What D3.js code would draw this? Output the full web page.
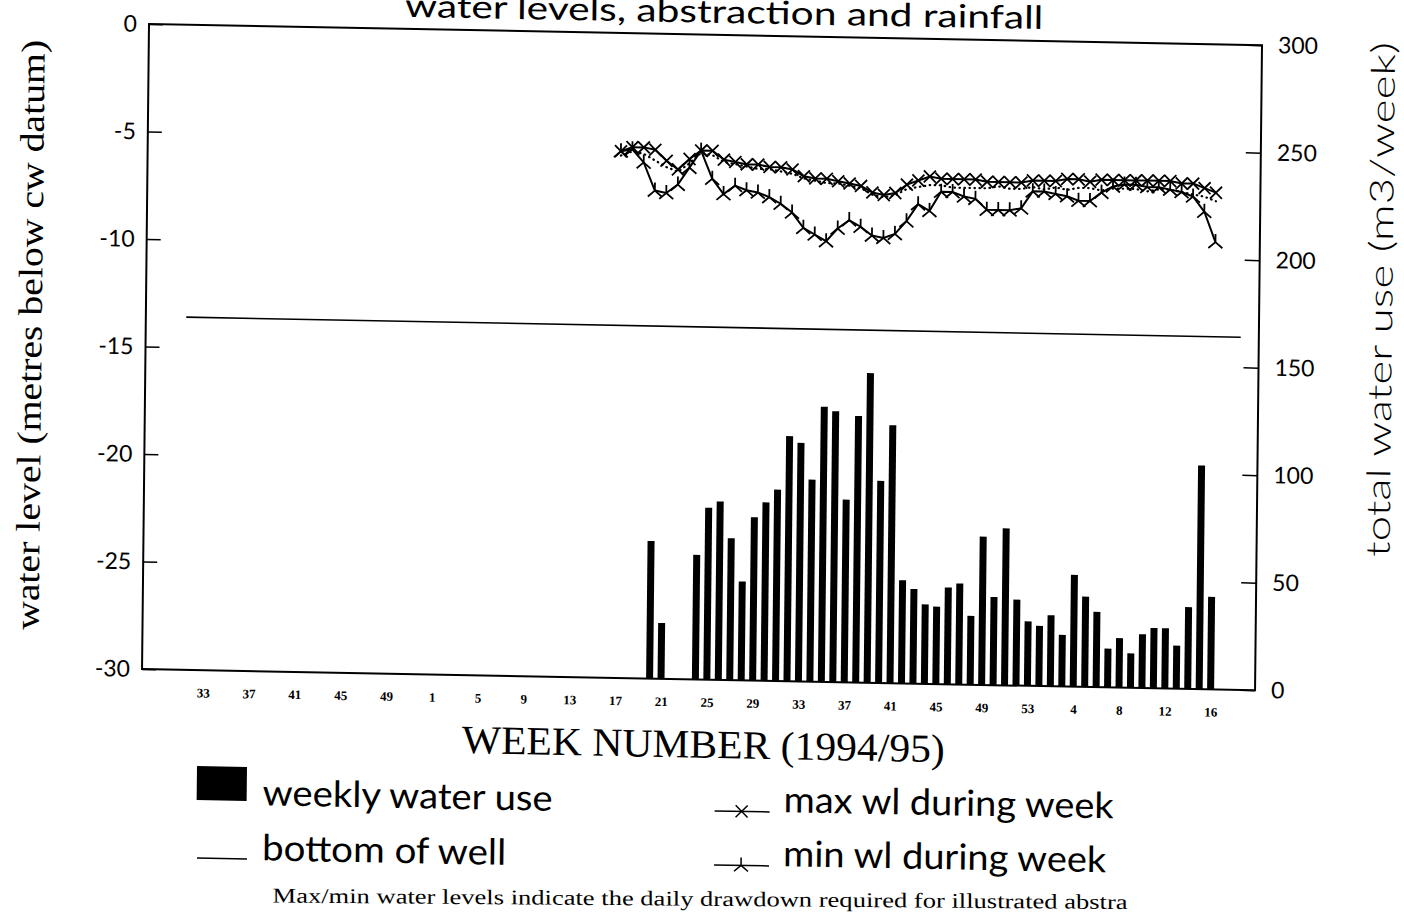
<!DOCTYPE html>
<html>
<head>
<meta charset="utf-8">
<script src="https://cdn.jsdelivr.net/npm/d3@7"></script>
<style>
  body { margin: 0; background: #fff; }
  svg { display: block; overflow: hidden; }
</style>
</head>
<body>
<svg id="chart" width="1404" height="914"></svg>
<script>
// week labels along the bottom (index 0 = week 33 of 1994, one step per week)
const tickIdx = [0, 4, 8, 12, 16, 20, 24, 28, 32, 36, 40, 44, 48, 52, 56, 60, 64, 68, 72, 76, 80, 84, 88];
const tickLabels = ['33', '37', '41', '45', '49', '1', '5', '9', '13', '17', '21', '25', '29', '33', '37', '41', '45', '49', '53', '4', '8', '12', '16'];

// weekly water use (m3/week), right axis
const useWeeks = ['95-20', '95-21', '95-24', '95-25', '95-26', '95-27', '95-28', '95-29', '95-30', '95-31',
  '95-32', '95-33', '95-34', '95-35', '95-36', '95-37', '95-38', '95-39', '95-40', '95-41',
  '95-42', '95-43', '95-44', '95-45', '95-46', '95-47', '95-48', '95-49', '95-50', '95-51',
  '95-52', '95-53', '96-1', '96-2', '96-3', '96-4', '96-5', '96-6', '96-7', '96-8',
  '96-9', '96-10', '96-11', '96-12', '96-13', '96-14', '96-15', '96-16'];
const useM3 = [64, 26, 58, 80, 83, 66, 46, 76, 83, 89,
  114, 111, 94, 128, 126, 85, 124, 144, 94, 120,
  48, 44, 37, 36, 45, 47, 32, 69, 41, 73,
  40, 30, 28, 33, 24, 52, 42, 35, 18, 23,
  16, 25, 28, 28, 20, 38, 104, 43];

// water levels (m below cw datum), left axis, weekly from week 17 of 1995
const levelStart = '95-17';
const maxWl = [-5.5, -5.3, -5.3, -5.4, -5.9, -6.3, -5.8, -5.4, -5.4, -5.8,
  -5.9, -6.0, -6.0, -6.1, -6.1, -6.2, -6.5, -6.6, -6.6, -6.7,
  -6.8, -6.9, -7.2, -7.3, -7.2, -6.8, -6.6, -6.4, -6.5, -6.5,
  -6.5, -6.5, -6.6, -6.6, -6.6, -6.6, -6.5, -6.5, -6.5, -6.4,
  -6.4, -6.5, -6.4, -6.4, -6.4, -6.4, -6.4, -6.4, -6.4, -6.5,
  -6.5, -6.7, -6.9];
const minWl = [-5.5, -5.4, -6.0, -7.3, -7.4, -7.0, -6.2, -5.4, -6.7, -7.4,
  -7.0, -7.2, -7.3, -7.5, -7.8, -8.2, -8.9, -9.2, -9.5, -8.9,
  -8.5, -8.8, -9.2, -9.3, -9.1, -8.5, -7.7, -8.0, -7.1, -7.1,
  -7.3, -7.4, -7.9, -7.9, -7.9, -7.8, -7.0, -7.0, -7.1, -7.2,
  -7.4, -7.4, -7.0, -6.7, -6.6, -6.6, -6.7, -6.7, -6.8, -6.9,
  -7.1, -7.8, -9.2];
const dotWl = [-5.7, -5.5, -5.6, -5.9, -6.2, -6.4, -6.0, -5.5, -5.6, -5.9,
  -6.0, -6.1, -6.2, -6.2, -6.3, -6.4, -6.6, -6.7, -6.8, -6.8,
  -6.9, -7.0, -7.3, -7.4, -7.3, -7.0, -6.9, -6.8, -6.8, -6.9,
  -6.9, -6.9, -6.9, -6.8, -6.9, -6.9, -6.8, -6.9, -6.8, -6.9,
  -6.8, -6.8, -6.9, -6.8, -6.8, -6.8, -6.9, -6.8, -6.8, -6.9,
  -7.0, -7.1, -7.3];
const wellBottom = -13.6;
const wellFrom = -1.8, wellTo = 90.3;
const levelTicks = [0, -5, -10, -15, -20, -25, -30];
const useTicks = [0, 50, 100, 150, 200, 250, 300];

function weekIndex(s) {
  const [yy, ww] = s.split('-').map(Number);
  if (yy === 94) return ww - 33;
  if (yy === 95) return ww + 19;
  return ww + 72;
}

const W = 1113, H = 645;
const serif = '"Liberation Serif", "Times New Roman", serif';
const sans = 'Lato, "Open Sans", sans-serif';

const svg = d3.select('#chart');
svg.append('rect').attr('width', 1404).attr('height', 914).attr('fill', '#fff');

// whole page is a slightly skewed scan, so draw everything through one matrix
const g = svg.append('g').attr('transform', 'matrix(1,0.019,-0.0108,1,149,24)');

const x = d3.scaleLinear().domain([-5.33, 91.88]).range([0, W]);
const yL = d3.scaleLinear().domain([0, -30]).range([0, H]);
const yR = d3.scaleLinear().domain([0, 300]).range([H, 0]);

//bars
const bars = useWeeks.map((w, i) => ({ idx: weekIndex(w), v: useM3[i] }));
g.append('g').selectAll('rect').data(bars).join('rect')
  .attr('x', d => x(d.idx) - 3.5)
  .attr('width', 7)
  .attr('y', d => yR(d.v))
  .attr('height', d => yR(0) - yR(d.v))
  .attr('fill', '#000');

//bottom of well
g.append('line')
  .attr('x1', x(wellFrom)).attr('x2', x(wellTo))
  .attr('y1', yL(wellBottom)).attr('y2', yL(wellBottom))
  .attr('stroke', '#000').attr('stroke-width', 1.6);

//water level lines
const start = weekIndex(levelStart);
const line = d3.line().x((d, i) => x(start + i)).y(d => yL(d));

g.append('path').datum(dotWl).attr('d', line)
  .attr('fill', 'none').attr('stroke', '#000').attr('stroke-width', 2.2)
  .attr('stroke-linecap', 'round').attr('stroke-dasharray', '0.5,4.5');
g.append('path').datum(maxWl).attr('d', line)
  .attr('fill', 'none').attr('stroke', '#000').attr('stroke-width', 2);
g.append('path').datum(minWl).attr('d', line)
  .attr('fill', 'none').attr('stroke', '#000').attr('stroke-width', 2);

const crossPath = 'M-6,-6L6,6M-6,6L6,-6';
const minPath = 'M0,0V-8M0,0L-7,6M0,0L7,6';

g.append('g').selectAll('path').data(maxWl).join('path')
  .attr('transform', (d, i) => `translate(${x(start + i)},${yL(d)})`)
  .attr('d', crossPath).attr('stroke', '#000').attr('stroke-width', 1.8).attr('fill', 'none');
g.append('g').selectAll('path').data(minWl).join('path')
  .attr('transform', (d, i) => `translate(${x(start + i)},${yL(d)})`)
  .attr('d', minPath).attr('stroke', '#000').attr('stroke-width', 1.8).attr('fill', 'none');

//box
g.append('rect').attr('width', W).attr('height', H)
  .attr('fill', 'none').attr('stroke', '#000').attr('stroke-width', 2);

//axes
const leftAxis = d3.axisLeft(yL).tickValues(levelTicks)
  .tickFormat(d => String(d)).tickSize(-14).tickPadding(12);
const gl = g.append('g').call(leftAxis);
gl.select('.domain').remove();
gl.selectAll('line').attr('stroke-width', 1.5);
gl.selectAll('text').attr('font-family', sans).attr('font-size', 23).attr('fill', '#000');

const rightAxis = d3.axisRight(yR).tickValues(useTicks)
  .tickFormat(d => String(d)).tickSize(-15).tickPadding(16);
const gr = g.append('g').attr('transform', `translate(${W},0)`).call(rightAxis);
gr.select('.domain').remove();
gr.selectAll('line').attr('stroke-width', 1.5);
gr.selectAll('text').attr('font-family', sans).attr('font-size', 23).attr('fill', '#000');

const bottomAxis = d3.axisBottom(x).tickValues(tickIdx)
  .tickFormat((d, i) => tickLabels[i]).tickSize(0).tickPadding(18);
const gb = g.append('g').attr('transform', `translate(0,${H})`).call(bottomAxis);
gb.select('.domain').remove();
gb.selectAll('text').attr('font-family', serif).attr('font-weight', 'bold')
  .attr('font-size', 13).attr('fill', '#000');

//titles (top of the title is cut off by the page edge, as in the scan)
g.append('text').attr('x', 575).attr('y', -12)
  .attr('text-anchor', 'middle').attr('font-family', sans).attr('font-size', 32)
  .attr('textLength', 638).attr('lengthAdjust', 'spacingAndGlyphs')
  .text('water levels, abstraction and rainfall');

g.append('text').attr('transform', 'translate(-104,313) rotate(-90)')
  .attr('text-anchor', 'middle').attr('font-family', serif).attr('font-size', 34)
  .attr('textLength', 590).attr('lengthAdjust', 'spacingAndGlyphs')
  .text('water level (metres below cw datum)');

g.append('text').attr('transform', 'translate(1246,252) rotate(-90)')
  .attr('text-anchor', 'middle').attr('font-family', sans).attr('font-weight', 300)
  .attr('font-size', 33)
  .attr('textLength', 515).attr('lengthAdjust', 'spacingAndGlyphs')
  .text('total water use (m3/week)');

g.append('text').attr('x', 562).attr('y', 723)
  .attr('text-anchor', 'middle').attr('font-family', serif).attr('font-size', 40)
  .attr('textLength', 483).attr('lengthAdjust', 'spacingAndGlyphs')
  .text('WEEK NUMBER (1994/95)');

//legend
const lg = g.append('g');
lg.append('rect').attr('x', 56).attr('y', 741).attr('width', 50).attr('height', 34).attr('fill', '#000');
lg.append('text').attr('x', 122).attr('y', 779).attr('font-family', sans).attr('font-size', 36)
  .attr('textLength', 290).attr('lengthAdjust', 'spacingAndGlyphs').text('weekly water use');

lg.append('line').attr('x1', 57).attr('x2', 107).attr('y1', 833).attr('y2', 833)
  .attr('stroke', '#000').attr('stroke-width', 1.5);
lg.append('text').attr('x', 122).attr('y', 834).attr('font-family', sans).attr('font-size', 36)
  .attr('textLength', 244).attr('lengthAdjust', 'spacingAndGlyphs').text('bottom of well');

lg.append('line').attr('x1', 574).attr('x2', 629).attr('y1', 776).attr('y2', 776)
  .attr('stroke', '#000').attr('stroke-width', 1.5);
lg.append('path').attr('transform', 'translate(601,776)').attr('d', crossPath)
  .attr('stroke', '#000').attr('stroke-width', 1.5).attr('fill', 'none');
lg.append('text').attr('x', 643).attr('y', 776).attr('font-family', sans).attr('font-size', 36)
  .attr('textLength', 330).attr('lengthAdjust', 'spacingAndGlyphs').text('max wl during week');

lg.append('line').attr('x1', 574).attr('x2', 629).attr('y1', 830).attr('y2', 830)
  .attr('stroke', '#000').attr('stroke-width', 1.5);
lg.append('path').attr('transform', 'translate(601,830)').attr('d', minPath)
  .attr('stroke', '#000').attr('stroke-width', 1.5).attr('fill', 'none');
lg.append('text').attr('x', 643).attr('y', 830).attr('font-family', sans).attr('font-size', 36)
  .attr('textLength', 323).attr('lengthAdjust', 'spacingAndGlyphs').text('min wl during week');

// footnote sits a little flatter than the rest of the scan
lg.append('text').attr('transform', 'translate(133,876) rotate(-0.65)')
  .attr('font-family', serif).attr('font-size', 21)
  .attr('textLength', 855).attr('lengthAdjust', 'spacingAndGlyphs')
  .text('Max/min water levels indicate the daily drawdown required for illustrated abstra');
</script>
</body>
</html>
